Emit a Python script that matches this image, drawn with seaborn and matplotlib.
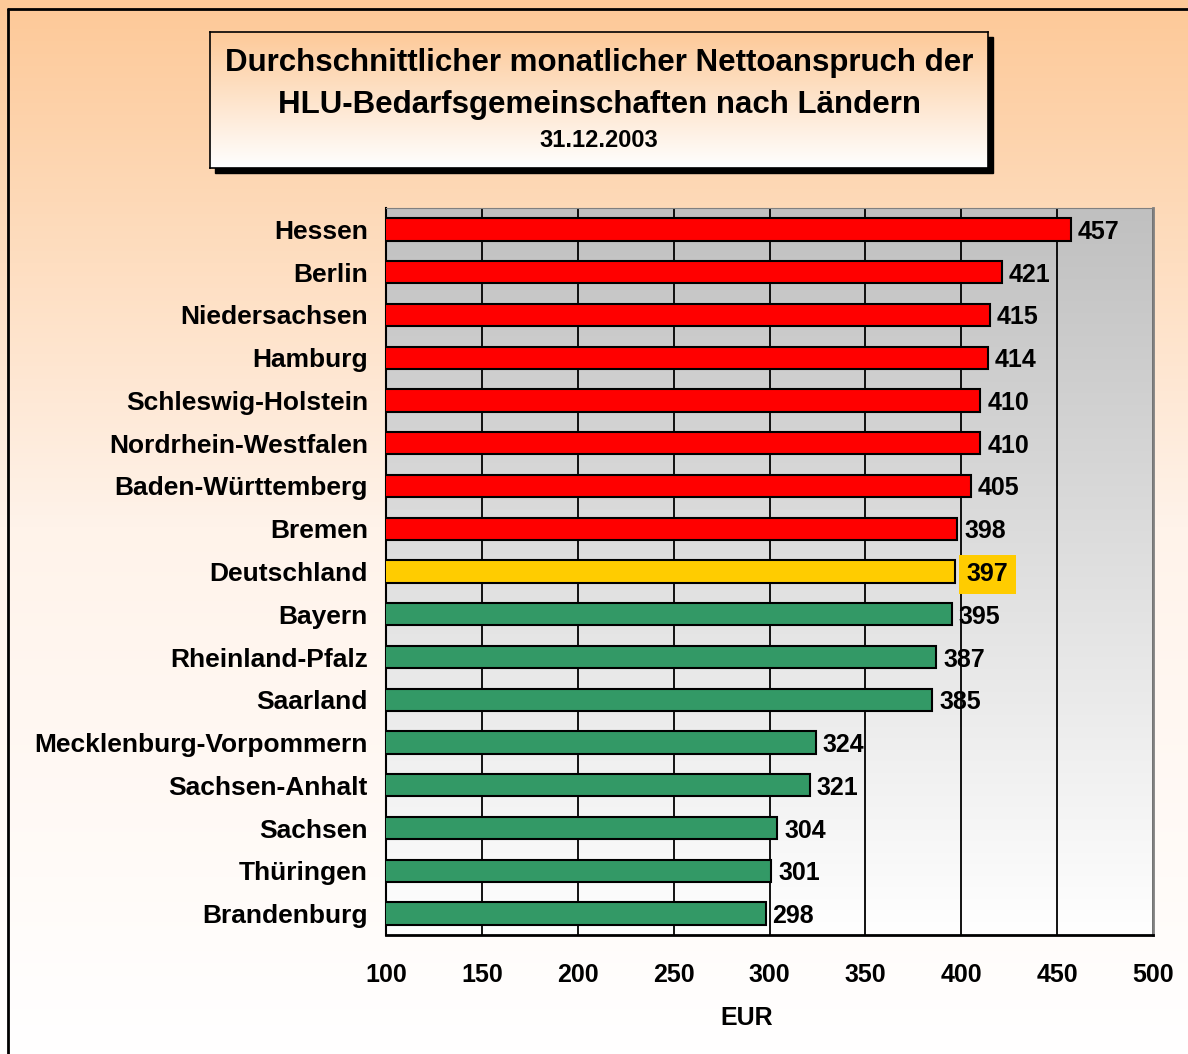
import numpy as np
import pandas as pd
import matplotlib
matplotlib.use("Agg")
import matplotlib.pyplot as plt
from matplotlib.colors import LinearSegmentedColormap
from matplotlib.patches import Rectangle
from matplotlib.lines import Line2D
import seaborn as sns

# Data
laender = ["Hessen", "Berlin", "Niedersachsen", "Hamburg", "Schleswig-Holstein",
           "Nordrhein-Westfalen", "Baden-Württemberg", "Bremen", "Deutschland",
           "Bayern", "Rheinland-Pfalz", "Saarland", "Mecklenburg-Vorpommern",
           "Sachsen-Anhalt", "Sachsen", "Thüringen", "Brandenburg"]
werte = [457, 421, 415, 414, 410, 410, 405, 398, 397, 395, 387, 385, 324, 321, 304, 301, 298]
gruppe = ["hoch"] * 8 + ["bund"] + ["niedrig"] * 8
farben = {"hoch": "#FF0000", "bund": "#FFCC00", "niedrig": "#339966"}
x_ticks = [100, 150, 200, 250, 300, 350, 400, 450, 500]

df = pd.DataFrame({"land": laender, "wert": werte, "gruppe": gruppe})

sns.set_style("white")
plt.rcParams["font.family"] = ["Liberation Sans", "DejaVu Sans"]
plt.rcParams["font.weight"] = "bold"
plt.rcParams["text.color"] = "black"
plt.rcParams["axes.labelcolor"] = "black"
plt.rcParams["xtick.color"] = "black"
plt.rcParams["ytick.color"] = "black"

fig = plt.figure(figsize=(11.88, 10.54), dpi=100)

# background gradient (peach -> white)
bg = fig.add_axes([0, 0, 1, 1], zorder=-10)
bg_cmap = LinearSegmentedColormap.from_list("bg", ["#FDC998", "#FFF3EA", "#FFFFFF"])
bg.imshow(np.linspace(0, 1, 256).reshape(-1, 1), cmap=bg_cmap, aspect="auto",
          extent=[0, 1, 0, 1], origin="upper")
bg.set_xlim(0, 1)
bg.set_ylim(0, 1)
bg.axis("off")

# figure frame (left + top)
fig.add_artist(Line2D([0.007, 0.007], [0, 0.991], transform=fig.transFigure, color="black", lw=2))
fig.add_artist(Line2D([0.007, 1], [0.991, 0.991], transform=fig.transFigure, color="black", lw=2))

# title box with shadow
bx0, by0, bw, bh = 210 / 1188, 1 - 168 / 1054, 778 / 1188, 136 / 1054
fig.add_artist(Rectangle((bx0 + 5 / 1188, by0 - 5 / 1054), bw, bh, transform=fig.transFigure,
                         facecolor="black", edgecolor="black", zorder=1))
tb = fig.add_axes([bx0, by0, bw, bh], zorder=2)
tb_cmap = LinearSegmentedColormap.from_list("tb", ["#FDC998", "#FFFFFF"])
tb.imshow(np.linspace(0, 1, 256).reshape(-1, 1), cmap=tb_cmap, aspect="auto",
          extent=[0, 1, 0, 1], origin="upper")
tb.set_xlim(0, 1)
tb.set_ylim(0, 1)
tb.set_xticks([])
tb.set_yticks([])
for s in tb.spines.values():
    s.set_color("black")
    s.set_linewidth(1.2)
tb.text(0.5, 0.772, "Durchschnittlicher monatlicher Nettoanspruch der", ha="center", va="center",
        fontsize=22.5, fontweight="bold")
tb.text(0.5, 0.463, "HLU-Bedarfsgemeinschaften nach Ländern", ha="center", va="center",
        fontsize=22.5, fontweight="bold")
tb.text(0.5, 0.199, "31.12.2003", ha="center", va="center", fontsize=17, fontweight="bold")

# main axes
ax = fig.add_axes([386 / 1188, 1 - 935 / 1054, 767 / 1188, 727 / 1054])
pa_cmap = LinearSegmentedColormap.from_list("pa", ["#C0C0C0", "#FFFFFF"])
ax.imshow(np.linspace(0, 1, 256).reshape(-1, 1), cmap=pa_cmap, aspect="auto",
          extent=[0, 1, 0, 1], origin="upper", transform=ax.transAxes, zorder=0)

sns.barplot(data=df, x="wert", y="land", hue="gruppe", palette=farben, dodge=False,
            legend=False, width=0.52, edgecolor="black", linewidth=1.5, saturation=1,
            ax=ax, zorder=3)

ax.set_xlim(100, 500)
ax.set_ylim(len(laender) - 0.5, -0.5)
ax.set_xticks(x_ticks)
ax.set_xticklabels([str(t) for t in x_ticks], fontsize=18, fontweight="bold")
ax.tick_params(axis="x", length=8, width=1.5, direction="out", pad=12, color="black")
ax.set_yticks(range(len(laender)))
ax.set_yticklabels(laender, fontsize=19, fontweight="bold")
ax.tick_params(axis="y", length=0, pad=13)
ax.set_yticks(np.arange(-0.5, len(laender), 1), minor=True)
ax.tick_params(axis="y", which="minor", length=6, width=1.2, direction="out", color="black")
ax.set_axisbelow(False)
ax.grid(False)
for t in x_ticks:
    ax.axvline(t, color="black", lw=1.3, zorder=1)
ax.set_xlabel("EUR", fontsize=18, fontweight="bold", labelpad=14)
ax.xaxis.label.set_x(0.47)
ax.set_ylabel("")

ax.spines["left"].set_color("black")
ax.spines["left"].set_linewidth(1.5)
ax.spines["bottom"].set_color("black")
ax.spines["bottom"].set_linewidth(2)
ax.spines["top"].set_color("#808080")
ax.spines["right"].set_color("#808080")
ax.spines["right"].set_linewidth(2)

for i, (land, w) in enumerate(zip(laender, werte)):
    if land == "Deutschland":
        ax.annotate(str(w), (w, i), xytext=(8, 0), textcoords="offset points",
                    va="center_baseline", ha="left", fontsize=18, fontweight="bold", zorder=5,
                    bbox=dict(boxstyle="square,pad=0.3", facecolor="#FFCC00", edgecolor="none"))
    else:
        ax.annotate(str(w), (w, i), xytext=(5, 0), textcoords="offset points",
                    va="center_baseline", ha="left", fontsize=18, fontweight="bold", zorder=5)

fig.savefig("out.png", dpi=100)
